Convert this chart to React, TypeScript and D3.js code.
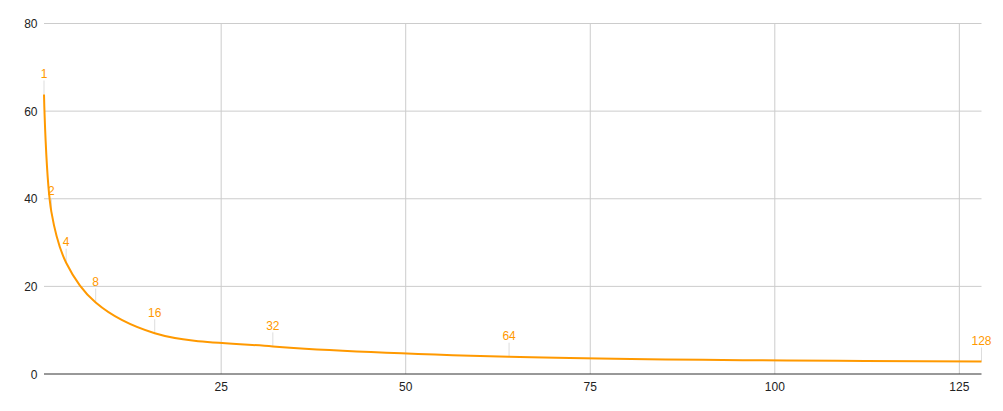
import React from "react";
import * as d3 from "d3";

const xValues = [1, 2, 4, 8, 16, 32, 64, 128];
const yValues = [63.8, 37.0, 25.4, 16.3, 9.3, 6.3, 3.95, 2.85];
const pointLabels = ["1", "2", "4", "8", "16", "32", "64", "128"];
const xTicks = [25, 50, 75, 100, 125];
const yTicks = [0, 20, 40, 60, 80];

const W = 1003;
const H = 411;
const left = 44;
const right = 981.5;
const top = 23.5;
const bottom = 374;

export default function App() {
  const x = d3.scaleLinear().domain([1, 128]).range([left, right]);
  const y = d3.scaleLinear().domain([0, 80]).range([bottom, top]);
  const pts = xValues.map((v, i) => [x(v), y(yValues[i])] as [number, number]);
  const line = d3.line().curve(d3.curveCatmullRom.alpha(0.5))(pts) || "";
  const font = "Arial, 'Liberation Sans', sans-serif";
  return (
    <svg
      width={W}
      height={H}
      style={{ position: "absolute", left: 0, top: 0, background: "#fff" }}
      fontFamily={font}
    >
      {yTicks.filter((t) => t !== 0).map((t) => (
        <line key={"gy" + t} x1={left} x2={right} y1={y(t)} y2={y(t)} stroke="#cccccc" strokeWidth={1} />
      ))}
      {xTicks.map((t) => (
        <line key={"gx" + t} x1={x(t)} x2={x(t)} y1={top} y2={bottom} stroke="#cccccc" strokeWidth={1} />
      ))}
      <line x1={left} x2={right} y1={y(0)} y2={y(0)} stroke="#333333" strokeWidth={1} />
      {yTicks.map((t) => (
        <text key={"ly" + t} x={37.5} y={y(t) + 4.5} textAnchor="end" fontSize={12} fill="#222222">
          {t}
        </text>
      ))}
      {xTicks.map((t) => (
        <text key={"lx" + t} x={x(t)} y={390.5} textAnchor="middle" fontSize={12} fill="#222222">
          {t}
        </text>
      ))}
      {pts.map((p, i) => (
        <line key={"st" + i} x1={p[0]} x2={p[0]} y1={p[1]} y2={p[1] - 14} stroke="#dddddd" strokeWidth={1} />
      ))}
      <path d={line} fill="none" stroke="#ff9900" strokeWidth={2} />
      {pts.map((p, i) => (
        <text key={"pl" + i} x={p[0]} y={p[1] - 16.5} textAnchor="middle" fontSize={12} fill="#ff9900">
          {pointLabels[i]}
        </text>
      ))}
    </svg>
  );
}
